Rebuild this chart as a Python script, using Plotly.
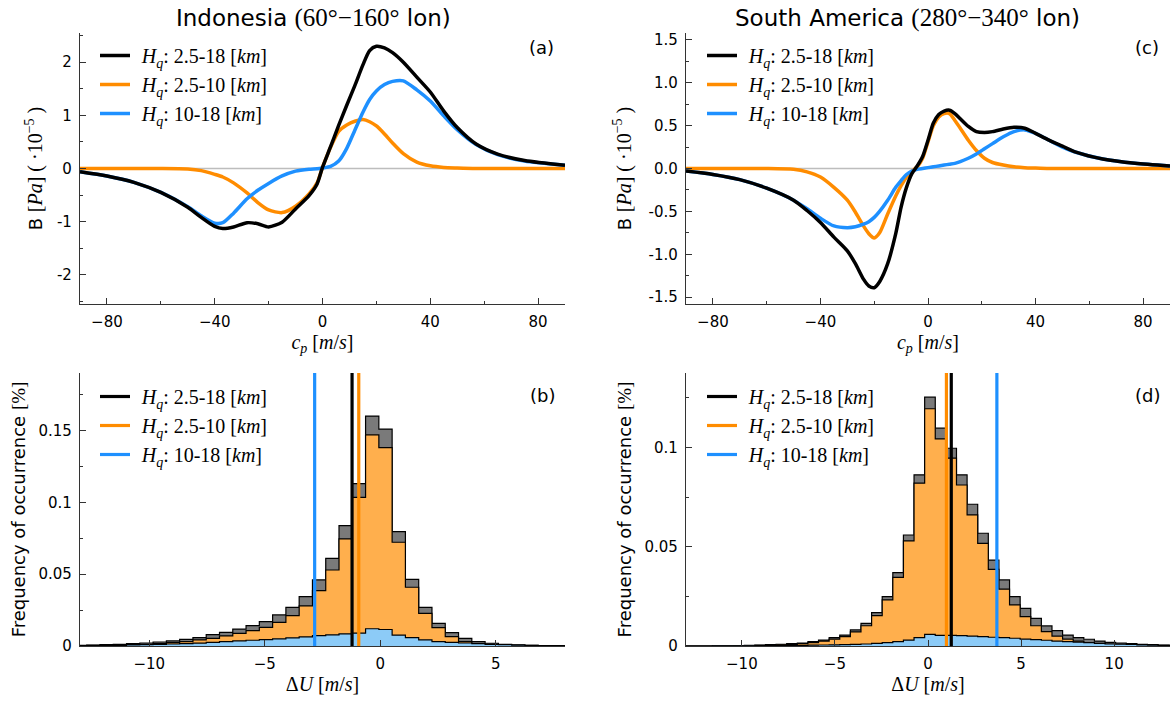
import numpy as np
import plotly.graph_objects as go

SANS = "DejaVu Sans"
SERIF = "Liberation Serif"

C_BLACK = "#000000"
C_ORANGE = "#FF8C00"
C_BLUE = "#1E90FF"

LEG_NAMES = [
    "\u2004<i>H</i><sub><i>q</i></sub>: 2.5-18 [<i>km</i>]",
    "\u2004<i>H</i><sub><i>q</i></sub>: 2.5-10 [<i>km</i>]",
    "\u2004<i>H</i><sub><i>q</i></sub>: 10-18 [<i>km</i>]",
]

# ---------------- (a) Indonesia: momentum flux spectra ----------------
cp_a = [-90, -80, -70, -60, -50, -45, -40, -37, -33, -28, -24, -20, -15, -10, -5, -2,
        0, 3, 6, 9, 12, 15, 17.5, 20, 23, 26, 30, 35, 40, 45, 50, 57, 65, 75, 90]
B_all_a = [-0.06, -0.14, -0.26, -0.45, -0.73, -0.92, -1.09, -1.13, -1.10, -1.02, -1.04, -1.10,
           -1.01, -0.76, -0.51, -0.29, 0.02, 0.41, 0.81, 1.19, 1.56, 1.95, 2.22, 2.30, 2.27,
           2.18, 2.00, 1.72, 1.44, 1.08, 0.77, 0.46, 0.27, 0.15, 0.06]
B_low_a = [0.0, 0.0, 0.0, 0.0, -0.01, -0.04, -0.11, -0.16, -0.27, -0.46, -0.64, -0.78,
           -0.83, -0.71, -0.48, -0.27, 0.02, 0.40, 0.70, 0.82, 0.89, 0.92, 0.88, 0.80, 0.65,
           0.48, 0.28, 0.12, 0.05, 0.02, 0.01, 0.0, 0.0, 0.0, 0.0]
B_high_a = [-0.06, -0.14, -0.26, -0.45, -0.72, -0.89, -1.03, -1.02, -0.84, -0.57, -0.41, -0.28,
            -0.14, -0.05, -0.015, -0.005, 0.01, 0.04, 0.14, 0.38, 0.72, 1.06, 1.30, 1.46, 1.58,
            1.64, 1.65, 1.48, 1.27, 0.99, 0.73, 0.45, 0.26, 0.14, 0.06]

# ---------------- (c) South America: momentum flux spectra ----------------
cp_c = [-90, -80, -70, -60, -50, -45, -40, -35, -30, -27, -24, -22, -20, -18, -15, -12, -10,
        -8, -6, -4, -2, 0, 2, 4, 6, 8, 10, 12, 15, 18, 21, 24, 28, 32, 36, 40, 45, 50, 55,
        65, 77, 90]
B_all_c = [-0.03, -0.07, -0.13, -0.23, -0.37, -0.49, -0.63, -0.80, -0.96, -1.11, -1.29, -1.37,
           -1.39, -1.32, -1.11, -0.76, -0.45, -0.22, -0.06, 0.03, 0.14, 0.33, 0.53, 0.63, 0.67,
           0.68, 0.64, 0.58, 0.49, 0.43, 0.42, 0.43, 0.46, 0.48, 0.47, 0.41, 0.33, 0.26, 0.19,
           0.11, 0.06, 0.03]
B_low_c = [0.0, 0.0, 0.0, 0.0, -0.01, -0.04, -0.10, -0.22, -0.37, -0.51, -0.67, -0.76,
           -0.81, -0.75, -0.53, -0.32, -0.20, -0.10, -0.03, 0.02, 0.12, 0.31, 0.50, 0.60, 0.64,
           0.64, 0.56, 0.47, 0.33, 0.21, 0.12, 0.07, 0.04, 0.02, 0.01, 0.005, 0.0, 0.0, 0.0,
           0.0, 0.0, 0.0]
B_high_c = [-0.03, -0.07, -0.13, -0.23, -0.37, -0.47, -0.58, -0.67, -0.69, -0.68, -0.65, -0.62,
            -0.57, -0.50, -0.37, -0.22, -0.14, -0.07, -0.03, -0.01, 0.0, 0.01, 0.02, 0.03, 0.04,
            0.05, 0.06, 0.08, 0.12, 0.17, 0.23, 0.29, 0.37, 0.43, 0.45, 0.41, 0.33, 0.25, 0.19,
            0.11, 0.06, 0.03]

# ---------------- (b) Indonesia: Delta U histograms ----------------
du_b_first_edge = -13.285
du_b_width = 0.575
freq_all_b = [0.0005, 0.0007, 0.0009, 0.0012, 0.0016, 0.0021, 0.0028, 0.0035, 0.0046, 0.0058,
              0.0079, 0.0095, 0.0118, 0.0142, 0.0169, 0.0216, 0.0269, 0.0344, 0.0460, 0.0610,
              0.0838, 0.1130, 0.1600, 0.1510, 0.0796, 0.0464, 0.0269, 0.0158, 0.0093, 0.0053,
              0.0030, 0.0019, 0.0012, 0.0008, 0.0005, 0.0003, 0.0002, 0.0001]
freq_low_b = [0.0003, 0.0004, 0.0005, 0.0007, 0.0009, 0.0012, 0.0016, 0.0023, 0.0030, 0.0042,
              0.0053, 0.0070, 0.0088, 0.0107, 0.0130, 0.0165, 0.0211, 0.0279, 0.0385, 0.0529,
              0.0745, 0.1035, 0.1470, 0.1380, 0.0722, 0.0409, 0.0227, 0.0128, 0.0065, 0.0030,
              0.0014, 0.0007, 0.0004, 0.0002, 0.0001, 0.0001, 0.0, 0.0]
freq_high_b = [0.0002, 0.0003, 0.0004, 0.0005, 0.0007, 0.0009, 0.0012, 0.0014, 0.0017, 0.0020,
               0.0025, 0.0030, 0.0035, 0.0040, 0.0044, 0.0050, 0.0057, 0.0063, 0.0072, 0.0078,
               0.0085, 0.0090, 0.0120, 0.0115, 0.0076, 0.0058, 0.0043, 0.0031, 0.0025, 0.0021,
               0.0016, 0.0012, 0.0009, 0.0006, 0.0004, 0.0003, 0.0002, 0.0001]
mean_du_b = [-1.22, -0.93, -2.84]   # 2.5-18, 2.5-10, 10-18 km

# ---------------- (d) South America: Delta U histograms ----------------
du_d_first_edge = -13.29
du_d_width = 0.57
freq_all_d = [0.0, 0.0, 0.0, 0.0001, 0.0001, 0.0002, 0.0003, 0.0005, 0.0007, 0.0008, 0.0012,
              0.0015, 0.0022, 0.0030, 0.0042, 0.0055, 0.0081, 0.0114, 0.0168, 0.0249, 0.0370,
              0.0559, 0.0862, 0.1253, 0.1097, 0.0996, 0.0862, 0.0714, 0.0568, 0.0433, 0.0333,
              0.0249, 0.0190, 0.0139, 0.0101, 0.0077, 0.0055, 0.0042, 0.0034, 0.0025, 0.0018,
              0.0015, 0.0012, 0.0008, 0.0007, 0.0005, 0.0004]
freq_low_d = [0.0, 0.0, 0.0, 0.0, 0.0001, 0.0001, 0.0002, 0.0003, 0.0005, 0.0006, 0.0008,
              0.0012, 0.0017, 0.0025, 0.0035, 0.0047, 0.0071, 0.0102, 0.0153, 0.0232, 0.0346,
              0.0529, 0.0820, 0.1195, 0.1043, 0.0946, 0.0811, 0.0660, 0.0517, 0.0386, 0.0286,
              0.0207, 0.0148, 0.0102, 0.0072, 0.0050, 0.0035, 0.0025, 0.0017, 0.0012, 0.0008,
              0.0005, 0.0003, 0.0002, 0.0001, 0.0001, 0.0]
freq_high_d = [0.0, 0.0, 0.0, 0.0001, 0.0001, 0.0001, 0.0001, 0.0002, 0.0002, 0.0002, 0.0003,
               0.0003, 0.0004, 0.0005, 0.0006, 0.0007, 0.0008, 0.0010, 0.0013, 0.0017, 0.0022,
               0.0030, 0.0042, 0.0059, 0.0054, 0.0054, 0.0052, 0.0050, 0.0047, 0.0044, 0.0042,
               0.0039, 0.0035, 0.0032, 0.0029, 0.0025, 0.0022, 0.0020, 0.0017, 0.0013, 0.0010,
               0.0009, 0.0008, 0.0005, 0.0004, 0.0003, 0.0002]
mean_du_d = [1.25, 0.99, 3.70]

# axis limits
B_range_a = [-2.55, 2.55]
B_range_c = [-1.58, 1.58]
freq_top_b = 0.19
freq_top_d = 0.1375

fig = go.Figure()


def add_curves(cp, series, xa, ya, legend):
    # draw order: orange, blue, then black on top; legend order black, orange, blue
    order = [1, 2, 0]
    colors = [C_BLACK, C_ORANGE, C_BLUE]
    for i in order:
        fig.add_trace(go.Scatter(
            x=cp, y=series[i], mode="lines", name=LEG_NAMES[i],
            line=dict(color=colors[i], width=3.5, shape="spline", smoothing=0.7),
            xaxis=xa, yaxis=ya, legend=legend, legendrank=i + 1, hoverinfo="skip"))


def step_outline(first_edge, width, counts):
    edges = first_edge + width * np.arange(len(counts) + 1)
    xs = [edges[0]] + list(edges)
    ys = [0.0] + list(counts) + [0.0]
    return xs, ys


def add_hist(first_edge, width, layers, means, ytop, xa, ya, legend):
    fills = ["#7A7A7A", "#FFAF4D", "#8CCBF7"]
    for counts, fc in zip(layers, fills):
        xs, ys = step_outline(first_edge, width, counts)
        fig.add_trace(go.Scatter(
            x=xs, y=ys, mode="lines", line=dict(color="black", width=1.2, shape="hv"),
            fill="tozeroy", fillcolor=fc, xaxis=xa, yaxis=ya, showlegend=False,
            hoverinfo="skip"))
    colors = [C_BLACK, C_ORANGE, C_BLUE]
    for i, m in enumerate(means):
        fig.add_trace(go.Scatter(
            x=[m, m], y=[0, ytop], mode="lines", name=LEG_NAMES[i],
            line=dict(color=colors[i], width=3.2), xaxis=xa, yaxis=ya,
            legend=legend, legendrank=i + 1, hoverinfo="skip"))


add_curves(cp_a, [B_all_a, B_low_a, B_high_a], "x", "y", "legend")
add_curves(cp_c, [B_all_c, B_low_c, B_high_c], "x3", "y3", "legend3")
add_hist(du_b_first_edge, du_b_width, [freq_all_b, freq_low_b, freq_high_b], mean_du_b,
         freq_top_b, "x2", "y2", "legend2")
add_hist(du_d_first_edge, du_d_width, [freq_all_d, freq_low_d, freq_high_d], mean_du_d,
         freq_top_d, "x4", "y4", "legend4")

W, H = 1176, 704
LEFT_DOM = [80 / W, 565 / W]
RIGHT_DOM = [686 / W, 1170 / W]
TOP_DOM = [1 - 304 / H, 1 - 33 / H]
BOT_DOM = [1 - 646 / H, 1 - 373 / H]

AX = dict(showline=True, linecolor="#333333", linewidth=1.3, ticks="inside", ticklen=6,
          tickwidth=1.2, tickcolor="#333333", showgrid=False, zeroline=False,
          tickfont=dict(family=SANS, size=15, color="black"), ticklabelstandoff=4)
MINOR = dict(ticks="inside", ticklen=3, tickwidth=1, tickcolor="#333333", showgrid=False)


def serif(s, size=None):
    sz = f";font-size:{size}px" if size else ""
    return f"<span style='font-family:{SERIF}{sz}'>{s}</span>"


cp_title = serif("<i>c</i><sub><i>p</i></sub> [<i>m</i>/<i>s</i>]")
du_title = serif("Δ<i>U</i> [<i>m</i>/<i>s</i>]")
B_title = "B " + serif("[<i>Pa</i>] ( ·10<sup>−5</sup> )", 20)
F_title = "Frequency of occurrence " + serif("[%]", 19)

cp_ticks = [-80, -40, 0, 40, 80]
cp_text = ["−80", "−40", "0", "40", "80"]
XT = dict(size=20)

fig.update_layout(
    width=W, height=H, margin=dict(l=0, r=0, t=0, b=0, autoexpand=False),
    paper_bgcolor="white", plot_bgcolor="white",
    font=dict(family=SANS, size=15, color="black"),
    xaxis=dict(**AX, domain=LEFT_DOM, anchor="y", range=[-90, 90], tickvals=cp_ticks,
               ticktext=cp_text, minor=dict(**MINOR, dtick=20),
               title=dict(text=cp_title, font=XT, standoff=4)),
    yaxis=dict(**AX, domain=TOP_DOM, anchor="x", range=B_range_a,
               tickvals=[-2, -1, 0, 1, 2], ticktext=["-2", "-1", "0", "1", "2"],
               minor=dict(**MINOR, dtick=0.5),
               title=dict(text=B_title, font=dict(size=18), standoff=9)),
    xaxis3=dict(**AX, domain=RIGHT_DOM, anchor="y3", range=[-90, 90], tickvals=cp_ticks,
                ticktext=cp_text, minor=dict(**MINOR, dtick=20),
                title=dict(text=cp_title, font=XT, standoff=4)),
    yaxis3=dict(**AX, domain=TOP_DOM, anchor="x3", range=B_range_c,
                tickvals=[-1.5, -1, -0.5, 0, 0.5, 1, 1.5],
                ticktext=["-1.5", "-1.0", "-0.5", "0.0", "0.5", "1.0", "1.5"],
                minor=dict(**MINOR, dtick=0.25),
                title=dict(text=B_title, font=dict(size=18), standoff=12)),
    xaxis2=dict(**AX, domain=LEFT_DOM, anchor="y2", range=[-13, 8],
                tickvals=[-10, -5, 0, 5], ticktext=["−10", "−5", "0", "5"],
                title=dict(text=du_title, font=XT, standoff=4)),
    yaxis2=dict(**AX, domain=BOT_DOM, anchor="x2", range=[0, freq_top_b],
                tickvals=[0, 0.05, 0.1, 0.15], ticktext=["0", "0.05", "0.1", "0.15"],
                minor=dict(**MINOR, dtick=0.025),
                title=dict(text=F_title, font=dict(size=18), standoff=8)),
    xaxis4=dict(**AX, domain=RIGHT_DOM, anchor="y4", range=[-13, 13],
                tickvals=[-10, -5, 0, 5, 10], ticktext=["−10", "−5", "0", "5", "10"],
                title=dict(text=du_title, font=XT, standoff=4)),
    yaxis4=dict(**AX, domain=BOT_DOM, anchor="x4", range=[0, freq_top_d],
                tickvals=[0, 0.05, 0.1], ticktext=["0", "0.05", "0.1"],
                minor=dict(**MINOR, dtick=0.025),
                title=dict(text=F_title, font=dict(size=18), standoff=8)),
)

# light zero reference line in the spectrum panels
for xa, ya in [("x", "y"), ("x3", "y3")]:
    fig.add_shape(type="line", xref=f"{xa} domain", yref=ya, x0=0, x1=1, y0=0, y1=0,
                  line=dict(color="#BDBDBD", width=1.5), layer="below")

LEG = dict(font=dict(family=SERIF, size=20, color="black"), bgcolor="rgba(0,0,0,0)",
           xanchor="left", yanchor="top", itemwidth=30, tracegroupgap=0)
fig.update_layout(
    legend=dict(**LEG, x=95 / W, y=1 - 36 / H),
    legend2=dict(**LEG, x=95 / W, y=1 - 377 / H),
    legend3=dict(**LEG, x=702 / W, y=1 - 36 / H),
    legend4=dict(**LEG, x=702 / W, y=1 - 377 / H),
)

# panel titles and letters
titles = [
    ("Indonesia " + serif("(60°−160°", 25) + " lon)", 313),
    ("South America " + serif("(280°−340°", 25) + " lon)", 907),
]
for text, xc in titles:
    fig.add_annotation(text=text, x=xc / W, y=1 - 18 / H, xref="paper", yref="paper",
                       showarrow=False, font=dict(family=SANS, size=23),
                       xanchor="center", yanchor="middle")

for lab, xc, yc in [("(a)", 541, 48), ("(b)", 542, 395), ("(c)", 1147, 48), ("(d)", 1147, 395)]:
    fig.add_annotation(text=lab, x=xc / W, y=1 - yc / H, xref="paper", yref="paper",
                       showarrow=False, font=dict(family=SANS, size=18),
                       xanchor="center", yanchor="middle")

fig.write_html("out.html")
